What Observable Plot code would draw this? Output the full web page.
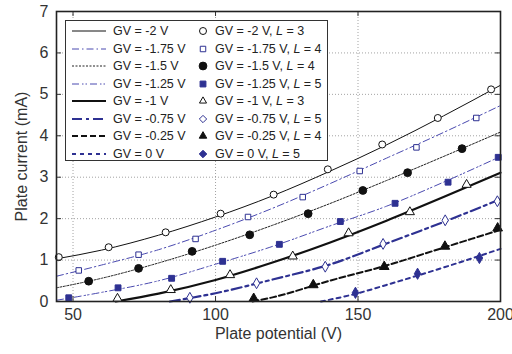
<!DOCTYPE html>
<html><head><meta charset="utf-8">
<script src="https://cdn.jsdelivr.net/npm/d3@7"></script>
<script src="https://cdn.jsdelivr.net/npm/@observablehq/plot@0.6"></script>
<style>
body{margin:0;background:#fff;font-family:"Liberation Sans",Arial,sans-serif;}
#wrap{position:relative;width:512px;height:354px;overflow:hidden;}
#legend{position:absolute;left:65px;top:20px;width:263px;height:141px;border:1px solid #333;background:#fff;font-size:12.5px;color:#222;box-sizing:border-box;}
#legend .t{position:absolute;white-space:nowrap;transform:translateY(-50%);line-height:1;}
#legend svg{position:absolute;overflow:visible;}
</style></head><body><div id="wrap"></div>
<script>
// ---- data ----
const xTicks = [50, 100, 150, 200];
const yTicks = [0, 1, 2, 3, 4, 5, 6, 7];
const xGrid = [50, 100, 150];
const yGrid = [1, 2, 3, 4, 5, 6];
const gvLabels = ["-2", "-1.75", "-1.5", "-1.25", "-1", "-0.75", "-0.25", "0"];
const lValues = [3, 4, 4, 5, 3, 5, 4, 5];

// model curves [plate potential V, plate current mA]
const lineGVm2   = [[44.2,1.03],[60,1.24],[80,1.6],[100,2.04],[120,2.55],[140,3.14],[160,3.78],[180,4.48],[200,5.22]];
const lineGVm175 = [[44.2,0.61],[60,0.88],[80,1.25],[100,1.72],[120,2.25],[140,2.84],[160,3.46],[180,4.08],[200,4.73]];
const lineGVm15  = [[44.2,0.33],[60,0.56],[80,0.93],[100,1.36],[120,1.84],[140,2.36],[160,2.92],[180,3.5],[200,4.09]];
const lineGVm125 = [[44.2,0.03],[60,0.22],[80,0.5],[100,0.9],[120,1.33],[140,1.82],[160,2.3],[180,2.88],[200,3.5]];
const lineGVm1   = [[65,0],[80,0.19],[100,0.52],[120,0.94],[140,1.42],[160,1.95],[180,2.52],[200,3.11]];
const lineGVm075 = [[84,0],[100,0.2],[120,0.53],[140,0.89],[160,1.4],[180,1.92],[200,2.47]];
const lineGVm025 = [[113,0],[120,0.1],[140,0.5],[160,0.87],[180,1.3],[200,1.73]];
const lineGV0    = [[137,0],[150,0.2],[160,0.4],[180,0.82],[200,1.27]];

// measured points
const ptsGVm2   = [[45,1.07],[62.5,1.31],[82.5,1.67],[101.8,2.12],[120.4,2.58],[139.4,3.19],[158.5,3.79],[178,4.43],[196.7,5.12]];
const ptsGVm175 = [[52,0.75],[73,1.13],[93,1.51],[111.4,2.04],[130.6,2.52],[150.6,3.15],[170.5,3.72],[191.5,4.43]];
const ptsGVm15  = [[55.5,0.49],[73,0.8],[91.8,1.21],[112,1.61],[132.5,2.12],[151.7,2.68],[167.4,3.11],[186.5,3.69]];
const ptsGVm125 = [[48.5,0.09],[65.8,0.33],[84.6,0.56],[102.5,0.97],[122.4,1.38],[143.8,1.93],[163,2.37],[181.6,2.88],[199.2,3.48]];
const ptsGVm1   = [[65.6,0.07],[84.3,0.28],[105.1,0.64],[127.1,1.09],[146.7,1.65],[168.2,2.16],[188.1,2.82]];
const ptsGVm075 = [[91,0.09],[114.4,0.44],[138.5,0.84],[158.8,1.39],[180.6,1.96],[198.9,2.42]];
const ptsGVm025 = [[113.4,0.07],[134.3,0.4],[159.2,0.84],[180.5,1.33],[199,1.77]];
const ptsGV0    = [[149.1,0.21],[170.9,0.67],[192.6,1.05]];

const lines = [lineGVm2, lineGVm175, lineGVm15, lineGVm125, lineGVm1, lineGVm075, lineGVm025, lineGV0];
const points = [ptsGVm2, ptsGVm175, ptsGVm15, ptsGVm125, ptsGVm1, ptsGVm075, ptsGVm025, ptsGV0];

// ---- styles ----
const BLK = "#111", BLU = "#2e3192", BLU2 = "#4a4ab0";
const lineStyle = [
  {stroke: BLK, strokeWidth: 1, strokeDasharray: null},
  {stroke: BLU2, strokeWidth: 1, strokeDasharray: "7,3,1.5,3"},
  {stroke: "#222", strokeWidth: 1, strokeDasharray: "2,1.5"},
  {stroke: BLU2, strokeWidth: 1, strokeDasharray: "7,3,1.5,2,1.5,3"},
  {stroke: BLK, strokeWidth: 2.2, strokeDasharray: null},
  {stroke: BLU, strokeWidth: 2.2, strokeDasharray: "10,4,3,4"},
  {stroke: BLK, strokeWidth: 2, strokeDasharray: "6,3"},
  {stroke: BLU, strokeWidth: 2, strokeDasharray: "4,4"}
];
const dotStyle = [
  {symbol: "circle", r: 3.5, fill: "white", stroke: BLK},
  {symbol: "square", r: 3.1, fill: "white", stroke: BLU},
  {symbol: "circle", r: 3.9, fill: BLK, stroke: BLK},
  {symbol: "square", r: 3.3, fill: BLU, stroke: BLU},
  {symbol: "triangle", r: 3.4, fill: "white", stroke: BLK},
  {symbol: "diamond", r: 3.3, fill: "white", stroke: BLU},
  {symbol: "triangle", r: 3.6, fill: BLK, stroke: BLK},
  {symbol: "diamond", r: 3.4, fill: BLU, stroke: BLU}
];

const W = 512, H = 354, ML = 56, MR = 12, MT = 11, MB = 53;
const PW = W - ML - MR, PH = H - MT - MB;

const marks = [
  Plot.gridX(xGrid, {stroke: "#999", strokeOpacity: 0.9, strokeDasharray: "1,2"}),
  Plot.gridY(yGrid, {stroke: "#999", strokeOpacity: 0.9, strokeDasharray: "1,2"})
];
lines.forEach((L, i) => marks.push(Plot.line(L, {x: d => d[0], y: d => d[1], curve: "monotone-x", ...lineStyle[i]})));
points.forEach((P, i) => marks.push(Plot.dot(P, {x: d => d[0], y: d => d[1], strokeWidth: 1, ...dotStyle[i]})));
marks.push(
  Plot.axisX(xTicks, {tickSize: 0, tickPadding: 7, label: "Plate potential (V)", labelAnchor: "center", labelArrow: "none", labelOffset: 37}),
  Plot.axisY(yTicks, {tickSize: 0, tickPadding: 8, label: "Plate current (mA)", labelAnchor: "center", labelArrow: "none", labelOffset: 41}),
  Plot.tickX(xTicks, {x: d => d, insetTop: PH - 5, stroke: "#333"}),
  Plot.tickX(xTicks, {x: d => d, insetBottom: PH - 5, stroke: "#333"}),
  Plot.tickY(yTicks, {y: d => d, insetRight: PW - 5, stroke: "#333"}),
  Plot.tickY(yTicks, {y: d => d, insetLeft: PW - 5, stroke: "#333"}),
  Plot.frame({stroke: "#222", strokeWidth: 1.6})
);

const chart = Plot.plot({
  width: W, height: H,
  marginLeft: ML, marginRight: MR, marginTop: MT, marginBottom: MB,
  style: {fontFamily: "'Liberation Sans', Arial, sans-serif", fontSize: "16px", color: "#333", background: "#fff"},
  x: {domain: [44.2, 200]},
  y: {domain: [0, 7]},
  marks
});
const wrap = document.getElementById("wrap");
wrap.appendChild(chart);

// ---- legend (HTML overlay inside the plot) ----
const leg = document.createElement("div");
leg.id = "legend";
const NS = "http://www.w3.org/2000/svg";
gvLabels.forEach((g, i) => {
  const cy = 10 + 17.5 * i;
  const s1 = document.createElementNS(NS, "svg");
  s1.setAttribute("width", 34); s1.setAttribute("height", 6);
  s1.style.left = "6px"; s1.style.top = (cy - 3) + "px";
  const ln = document.createElementNS(NS, "line");
  ln.setAttribute("x1", 0); ln.setAttribute("x2", 34); ln.setAttribute("y1", 3); ln.setAttribute("y2", 3);
  const st = lineStyle[i];
  ln.setAttribute("stroke", st.stroke); ln.setAttribute("stroke-width", st.strokeWidth);
  if (st.strokeDasharray) ln.setAttribute("stroke-dasharray", st.strokeDasharray);
  s1.appendChild(ln); leg.appendChild(s1);
  const t1 = document.createElement("div");
  t1.className = "t"; t1.style.left = "47px"; t1.style.top = cy + "px";
  t1.textContent = "GV = " + g + " V";
  leg.appendChild(t1);
  const ds = dotStyle[i];
  const s2 = document.createElementNS(NS, "svg");
  s2.setAttribute("width", 12); s2.setAttribute("height", 12);
  s2.style.left = (137 - 6) + "px"; s2.style.top = (cy - 6) + "px";
  const p = document.createElementNS(NS, "path");
  const symMap = {circle: d3.symbolCircle, square: d3.symbolSquare, triangle: d3.symbolTriangle2, diamond: d3.symbolDiamond2};
  p.setAttribute("d", d3.symbol(symMap[ds.symbol], Math.PI * ds.r * ds.r)());
  p.setAttribute("transform", "translate(6,6)");
  p.setAttribute("fill", ds.fill); p.setAttribute("stroke", ds.stroke); p.setAttribute("stroke-width", 1);
  s2.appendChild(p); leg.appendChild(s2);
  const t2 = document.createElement("div");
  t2.className = "t"; t2.style.left = "149px"; t2.style.top = cy + "px";
  t2.innerHTML = "GV = " + g + " V, <i>L</i> = " + lValues[i];
  leg.appendChild(t2);
});
wrap.appendChild(leg);
</script></body></html>
